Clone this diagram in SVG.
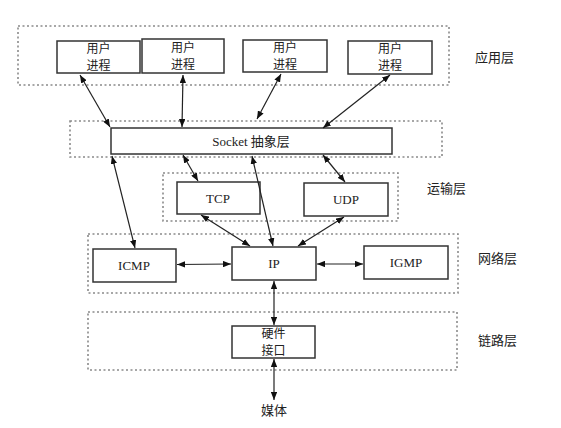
<svg xmlns="http://www.w3.org/2000/svg" width="561" height="428" viewBox="0 0 561 428">
<style>
.layer{fill:none;stroke:#8a8a8a;stroke-width:1.6;stroke-dasharray:2 2.5}
.box{fill:#fff;stroke:#333;stroke-width:1.5}
.zh{font-family:"Noto Sans CJK SC","Noto Sans",sans-serif;font-size:12px;fill:#222;text-anchor:middle}
.en{font-family:"Liberation Serif",serif;font-size:13px;fill:#222;text-anchor:middle}
.lbl{font-family:"Noto Sans CJK SC","Noto Sans",sans-serif;font-size:13px;fill:#222}
.conn line{stroke:#222;stroke-width:1.2;marker-start:url(#ah);marker-end:url(#ah)}
</style>
<defs>
<marker id="ah" viewBox="0 0 10 8" refX="10" refY="4" markerWidth="8" markerHeight="6.5" markerUnits="userSpaceOnUse" orient="auto-start-reverse">
<path d="M0,0 L10,4 L0,8 Z" fill="#111"/>
</marker>
</defs>
<rect width="561" height="428" fill="#fff"/>

<g id="layers">
<rect class="layer" x="18" y="26" width="431" height="59"/>
<rect class="layer" x="70" y="121" width="372" height="36"/>
<rect class="layer" x="163" y="173" width="235" height="48"/>
<rect class="layer" x="88" y="234" width="370" height="59"/>
<rect class="layer" x="88" y="312" width="369" height="58"/>
</g>

<g id="lbl-app"><text class="lbl" x="475" y="62">应用层</text></g>
<g id="lbl-trans"><text class="lbl" x="427" y="193">运输层</text></g>
<g id="lbl-net"><text class="lbl" x="478" y="263">网络层</text></g>
<g id="lbl-link"><text class="lbl" x="478" y="345">链路层</text></g>

<g id="proc1"><rect class="box" x="57" y="41" width="83" height="32"/><text class="zh" x="98.5" y="53">用户</text><text class="zh" x="98.5" y="69.5">进程</text></g>
<g id="proc2"><rect class="box" x="142" y="39" width="82" height="34"/><text class="zh" x="183" y="52">用户</text><text class="zh" x="183" y="68.5">进程</text></g>
<g id="proc3"><rect class="box" x="243" y="40" width="84" height="32"/><text class="zh" x="285" y="52">用户</text><text class="zh" x="285" y="68.5">进程</text></g>
<g id="proc4"><rect class="box" x="348" y="41" width="84" height="33"/><text class="zh" x="390" y="53">用户</text><text class="zh" x="390" y="69.5">进程</text></g>

<g id="socket"><rect class="box" x="111" y="128" width="281" height="26"/><text class="en" x="251" y="146">Socket <tspan style="font-family:'Noto Sans CJK SC',sans-serif;font-size:13px">抽象层</tspan></text></g>

<g id="tcp"><rect class="box" x="177" y="182" width="83" height="32"/><text class="en" x="218" y="203">TCP</text></g>
<g id="udp"><rect class="box" x="304" y="183" width="84" height="33"/><text class="en" x="346" y="204">UDP</text></g>

<g id="icmp"><rect class="box" x="93" y="249" width="83" height="33"/><text class="en" x="134" y="270">ICMP</text></g>
<g id="ip"><rect class="box" x="232" y="247" width="84" height="33"/><text class="en" x="274" y="268">IP</text></g>
<g id="igmp"><rect class="box" x="364" y="246" width="84" height="33"/><text class="en" x="406" y="267">IGMP</text></g>

<g id="hw"><rect class="box" x="232" y="326" width="83" height="32"/><text class="zh" x="273.5" y="338">硬件</text><text class="zh" x="273.5" y="354.5">接口</text></g>

<g id="media"><text class="zh" x="274" y="415" style="font-size:13px">媒体</text></g>

<g class="conn" id="connectors">
<line x1="80" y1="75" x2="110" y2="127"/>
<line x1="183" y1="75" x2="182" y2="127"/>
<line x1="281" y1="74" x2="257" y2="119"/>
<line x1="390" y1="75" x2="323" y2="128"/>
<line x1="112" y1="156" x2="135" y2="248"/>
<line x1="183" y1="155" x2="198" y2="181"/>
<line x1="252" y1="156" x2="273" y2="246"/>
<line x1="323" y1="155" x2="345" y2="182"/>
<line x1="201" y1="215" x2="250" y2="246"/>
<line x1="344" y1="217" x2="298" y2="246"/>
<line x1="177" y1="264.5" x2="231" y2="264"/>
<line x1="317" y1="264" x2="363" y2="264"/>
<line x1="274" y1="281" x2="274" y2="325"/>
<line x1="274" y1="359" x2="274" y2="400"/>
</g>
</svg>
